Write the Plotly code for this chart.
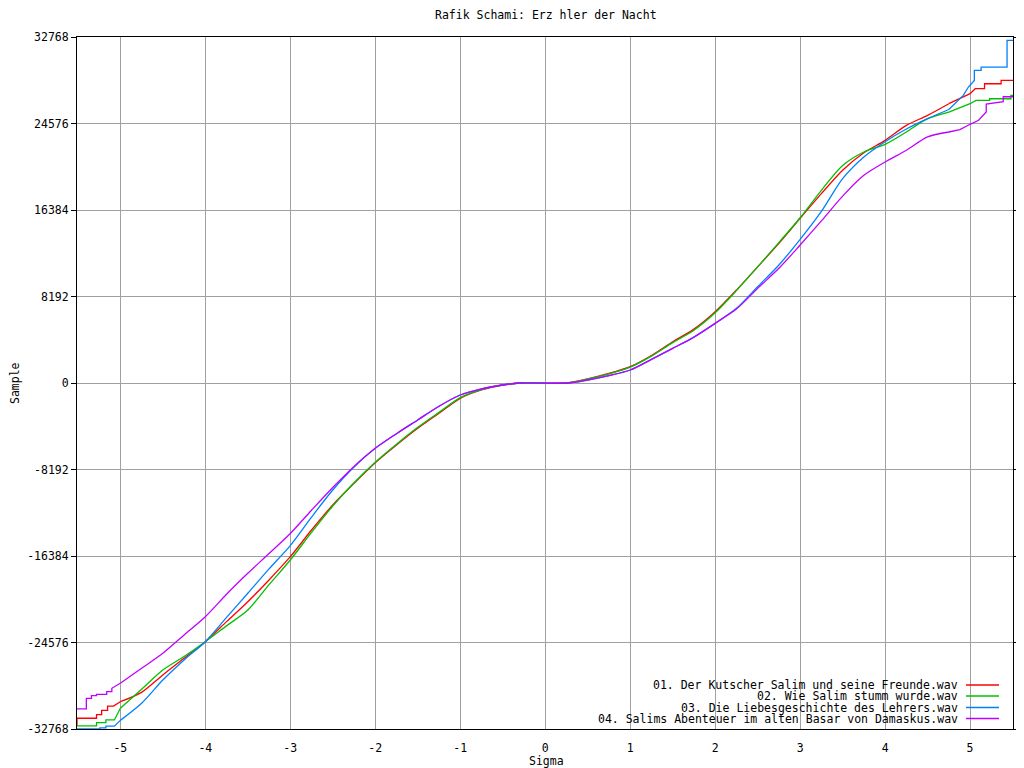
import plotly.graph_objects as go

TITLE = "Rafik Schami: Erz hler der Nacht"
NAMES = [
    "01. Der Kutscher Salim und seine Freunde.wav",
    "02. Wie Salim stumm wurde.wav",
    "03. Die Liebesgeschichte des Lehrers.wav",
    "04. Salims Abenteuer im alten Basar von Damaskus.wav",
]
COLORS = ["#ff0000", "#00c000", "#0080ff", "#c000ff"]

X_TICKS = [-5, -4, -3, -2, -1, 0, 1, 2, 3, 4, 5]
Y_TICKS = [-32768, -24576, -16384, -8192, 0, 8192, 16384, 24576, 32768]

red_x = [-5.51, -5.51, -5.28, -5.28, -5.22, -5.22, -5.15, -5.15, -5.08, -5.0,
         -4.75, -4.5, -4.25, -4.0, -3.75, -3.5, -3.25, -3.0, -2.75, -2.5,
         -2.25, -2.0, -1.75, -1.5, -1.25, -1.0, -0.75, -0.5, -0.3, 0.23,
         0.5, 0.75, 1.0, 1.25, 1.5, 1.75, 2.0, 2.25, 2.5, 2.75,
         3.0, 3.25, 3.5, 3.75, 4.0, 4.25, 4.5, 4.75, 5.0, 5.06,
         5.17, 5.17, 5.365, 5.365, 5.51]
red_y = [-32480, -31750, -31750, -31400, -31400, -31000, -31000, -30600, -30600, -30180,
         -29300, -27650, -26070, -24500, -22600, -20710, -18650, -16450, -13920, -11550,
         -9500, -7550, -5870, -4290, -2870, -1450, -660, -190, 0, 0,
         400, 900, 1544, 2600, 3900, 5100, 6750, 8800, 11000, 13230,
         15600, 17930, 20150, 21800, 22980, 24400, 25350, 26450, 27400, 27870,
         27870, 28340, 28340, 28660, 28660]

green_x = [-5.51, -5.28, -5.28, -5.17, -5.17, -5.07, -5.0, -4.75, -4.5, -4.25,
           -4.0, -3.75, -3.5, -3.25, -3.0, -2.75, -2.5, -2.25, -2.0, -1.75,
           -1.5, -1.25, -1.0, -0.75, -0.5, -0.3, 0.25, 0.5, 0.75, 1.0,
           1.25, 1.5, 1.75, 2.0, 2.25, 2.5, 2.75, 3.0, 3.25, 3.5,
           3.75, 4.0, 4.25, 4.5, 4.75, 5.0, 5.07, 5.23, 5.23, 5.48,
           5.48, 5.51]
green_y = [-32480, -32480, -32170, -32170, -31910, -31910, -30800, -29000, -27180, -25900,
           -24500, -23000, -21500, -19100, -16760, -14150, -11650, -9450, -7500, -5800,
           -4200, -2780, -1380, -620, -180, 0, 0, 380, 860, 1500,
           2550, 3820, 5000, 6650, 8750, 11000, 13300, 15650, 18250, 20600,
           21880, 22600, 23770, 25030, 25660, 26450, 26770, 26770, 26920, 26920,
           27240, 27240]

blue_x = [-5.51, -5.24, -5.24, -5.17, -5.17, -5.07, -5.0, -4.75, -4.5, -4.25,
          -4.0, -3.75, -3.5, -3.25, -3.0, -2.75, -2.5, -2.25, -2.0, -1.75,
          -1.5, -1.25, -1.0, -0.75, -0.5, -0.3, 0.28, 0.5, 0.75, 1.0,
          1.25, 1.5, 1.75, 2.0, 2.25, 2.5, 2.75, 3.0, 3.25, 3.5,
          3.75, 4.0, 4.25, 4.5, 4.75, 4.92, 4.98, 5.05, 5.05, 5.13,
          5.13, 5.435, 5.435, 5.51]
blue_y = [-32768, -32768, -32670, -32670, -32500, -32500, -31950, -30330, -28130, -26230,
          -24500, -22200, -19915, -17600, -15400, -12700, -10130, -7950, -6185, -4800,
          -3500, -2200, -1136, -550, -190, 0, 0, 284, 700, 1230,
          2240, 3280, 4350, 5650, 7070, 9120, 11175, 13600, 16250, 19350,
          21400, 22850, 24050, 25030, 25900, 27240, 28030, 28660, 29610, 29610,
          29920, 29920, 32450, 32450]

purple_x = [-5.51, -5.4, -5.4, -5.34, -5.34, -5.28, -5.28, -5.16, -5.16, -5.1,
            -5.1, -5.0, -4.75, -4.5, -4.25, -4.0, -3.75, -3.5, -3.25, -3.0,
            -2.75, -2.5, -2.25, -2.0, -1.75, -1.5, -1.25, -1.0, -0.75, -0.5,
            -0.3, 0.28, 0.5, 0.75, 1.0, 1.25, 1.5, 1.75, 2.0, 2.25,
            2.5, 2.75, 3.0, 3.25, 3.5, 3.75, 4.0, 4.25, 4.5, 4.75,
            4.88, 5.0, 5.1, 5.19, 5.19, 5.39, 5.39, 5.51]
purple_y = [-30870, -30870, -29860, -29860, -29610, -29610, -29480, -29480, -29230, -29230,
            -28910, -28440, -27020, -25600, -23860, -22130, -20000, -18020, -16150, -14250,
            -12050, -9900, -7900, -6185, -4800, -3500, -2200, -1136, -550, -190,
            0, 0, 284, 700, 1230, 2240, 3280, 4350, 5650, 7000,
            8960, 10860, 13070, 15350, 17700, 19670, 20930, 22040, 23300, 23770,
            23990, 24500, 24880, 25660, 26420, 26640, 27110, 27110]

SERIES = [(red_x, red_y), (green_x, green_y), (blue_x, blue_y), (purple_x, purple_y)]
BODY_LO, BODY_HI = -5.0, 4.75   # smooth part of each quantile curve; tails are steps

FONT = "DejaVu Sans Mono"
FS = 11.5
LW = 1.3

fig = go.Figure()
for (xs, ys), name, col in zip(SERIES, NAMES, COLORS):
    i0 = xs.index(BODY_LO)
    i1 = xs.index(BODY_HI)
    # left tail (steps), smooth body, right tail (steps)
    fig.add_trace(go.Scatter(x=xs[:i0 + 1], y=ys[:i0 + 1], mode="lines", name=name,
                             line=dict(color=col, width=LW), showlegend=False))
    fig.add_trace(go.Scatter(x=xs[i0:i1 + 1], y=ys[i0:i1 + 1], mode="lines", name=name,
                             line=dict(color=col, width=LW, shape="spline", smoothing=0.8),
                             showlegend=False))
    fig.add_trace(go.Scatter(x=xs[i1:], y=ys[i1:], mode="lines", name=name,
                             line=dict(color=col, width=LW), showlegend=False))

# The page has an 8px body margin, so the figure is drawn 8px smaller and
# the plot area is placed to land on the reference pixels.
OFF = 8
W, H = 1024 - OFF, 768 - OFF
PL, PR, PT, PB = 77, 1013, 37, 729          # plot area in page pixels
L, R, T, B = PL - OFF, W - (PR - OFF), PT - OFF, H - (PB - OFF)
pw, ph = PR - PL, PB - PT

def px2x(p):
    return (p - PL) / pw

def py2y(p):
    return (PB - p) / ph

fig.update_layout(
    width=W, height=H,
    margin=dict(l=L, r=R, t=T, b=B, autoexpand=False),
    paper_bgcolor="white", plot_bgcolor="white",
    font=dict(family=FONT, size=FS, color="black"),
    showlegend=False,
    xaxis=dict(range=[-5.51, 5.505], tickvals=X_TICKS, ticktext=[str(v) for v in X_TICKS],
               showgrid=True, gridcolor="#a0a0a0", gridwidth=1, zeroline=False,
               showline=True, linecolor="black", linewidth=1, mirror=True, automargin=False,
               ticks="", ticklabelstandoff=8, tickfont=dict(family=FONT, size=FS)),
    xaxis2=dict(range=[-5.51, 5.505], tickvals=X_TICKS, overlaying="x", anchor="y", side="top",
                showgrid=False, zeroline=False, showline=False, showticklabels=False,
                automargin=False,
                ticks="outside", ticklen=5, tickcolor="black", tickwidth=1),
    yaxis=dict(range=[-32768, 32768], tickvals=Y_TICKS, ticktext=[str(v) for v in Y_TICKS],
               showgrid=True, gridcolor="#a0a0a0", gridwidth=1, zeroline=False,
               showline=True, linecolor="black", linewidth=1, mirror="ticks", automargin=False,
               ticks="outside", ticklen=5, tickcolor="black", tickwidth=1,
               tickfont=dict(family=FONT, size=FS)),
)

annotations = [
    dict(text=TITLE, xref="paper", yref="paper", x=px2x(546), y=py2y(15),
         xanchor="center", yanchor="middle", showarrow=False, font=dict(family=FONT, size=FS)),
    dict(text="Sample", xref="paper", yref="paper", x=px2x(15), y=py2y(383), textangle=-90,
         xanchor="center", yanchor="middle", showarrow=False, font=dict(family=FONT, size=FS)),
    dict(text="Sigma", xref="paper", yref="paper", x=px2x(546), y=py2y(761),
         xanchor="center", yanchor="middle", showarrow=False, font=dict(family=FONT, size=FS)),
]
shapes = [dict(type="rect", xref="paper", yref="paper", x0=px2x(590), x1=px2x(1004),
               y0=py2y(723), y1=py2y(679), fillcolor="white", line=dict(width=0), layer="between")]
rows = [685, 696, 707.5, 718.5]
for name, col, ry in zip(NAMES, COLORS, rows):
    annotations.append(dict(text=name, xref="paper", yref="paper", x=px2x(960), y=py2y(ry),
                            xanchor="right", yanchor="middle", showarrow=False,
                            font=dict(family=FONT, size=FS)))
    shapes.append(dict(type="line", xref="paper", yref="paper", x0=px2x(966), x1=px2x(999),
                       y0=py2y(ry), y1=py2y(ry), line=dict(color=col, width=LW)))
fig.update_layout(annotations=annotations, shapes=shapes)

fig.write_html("out.html")
